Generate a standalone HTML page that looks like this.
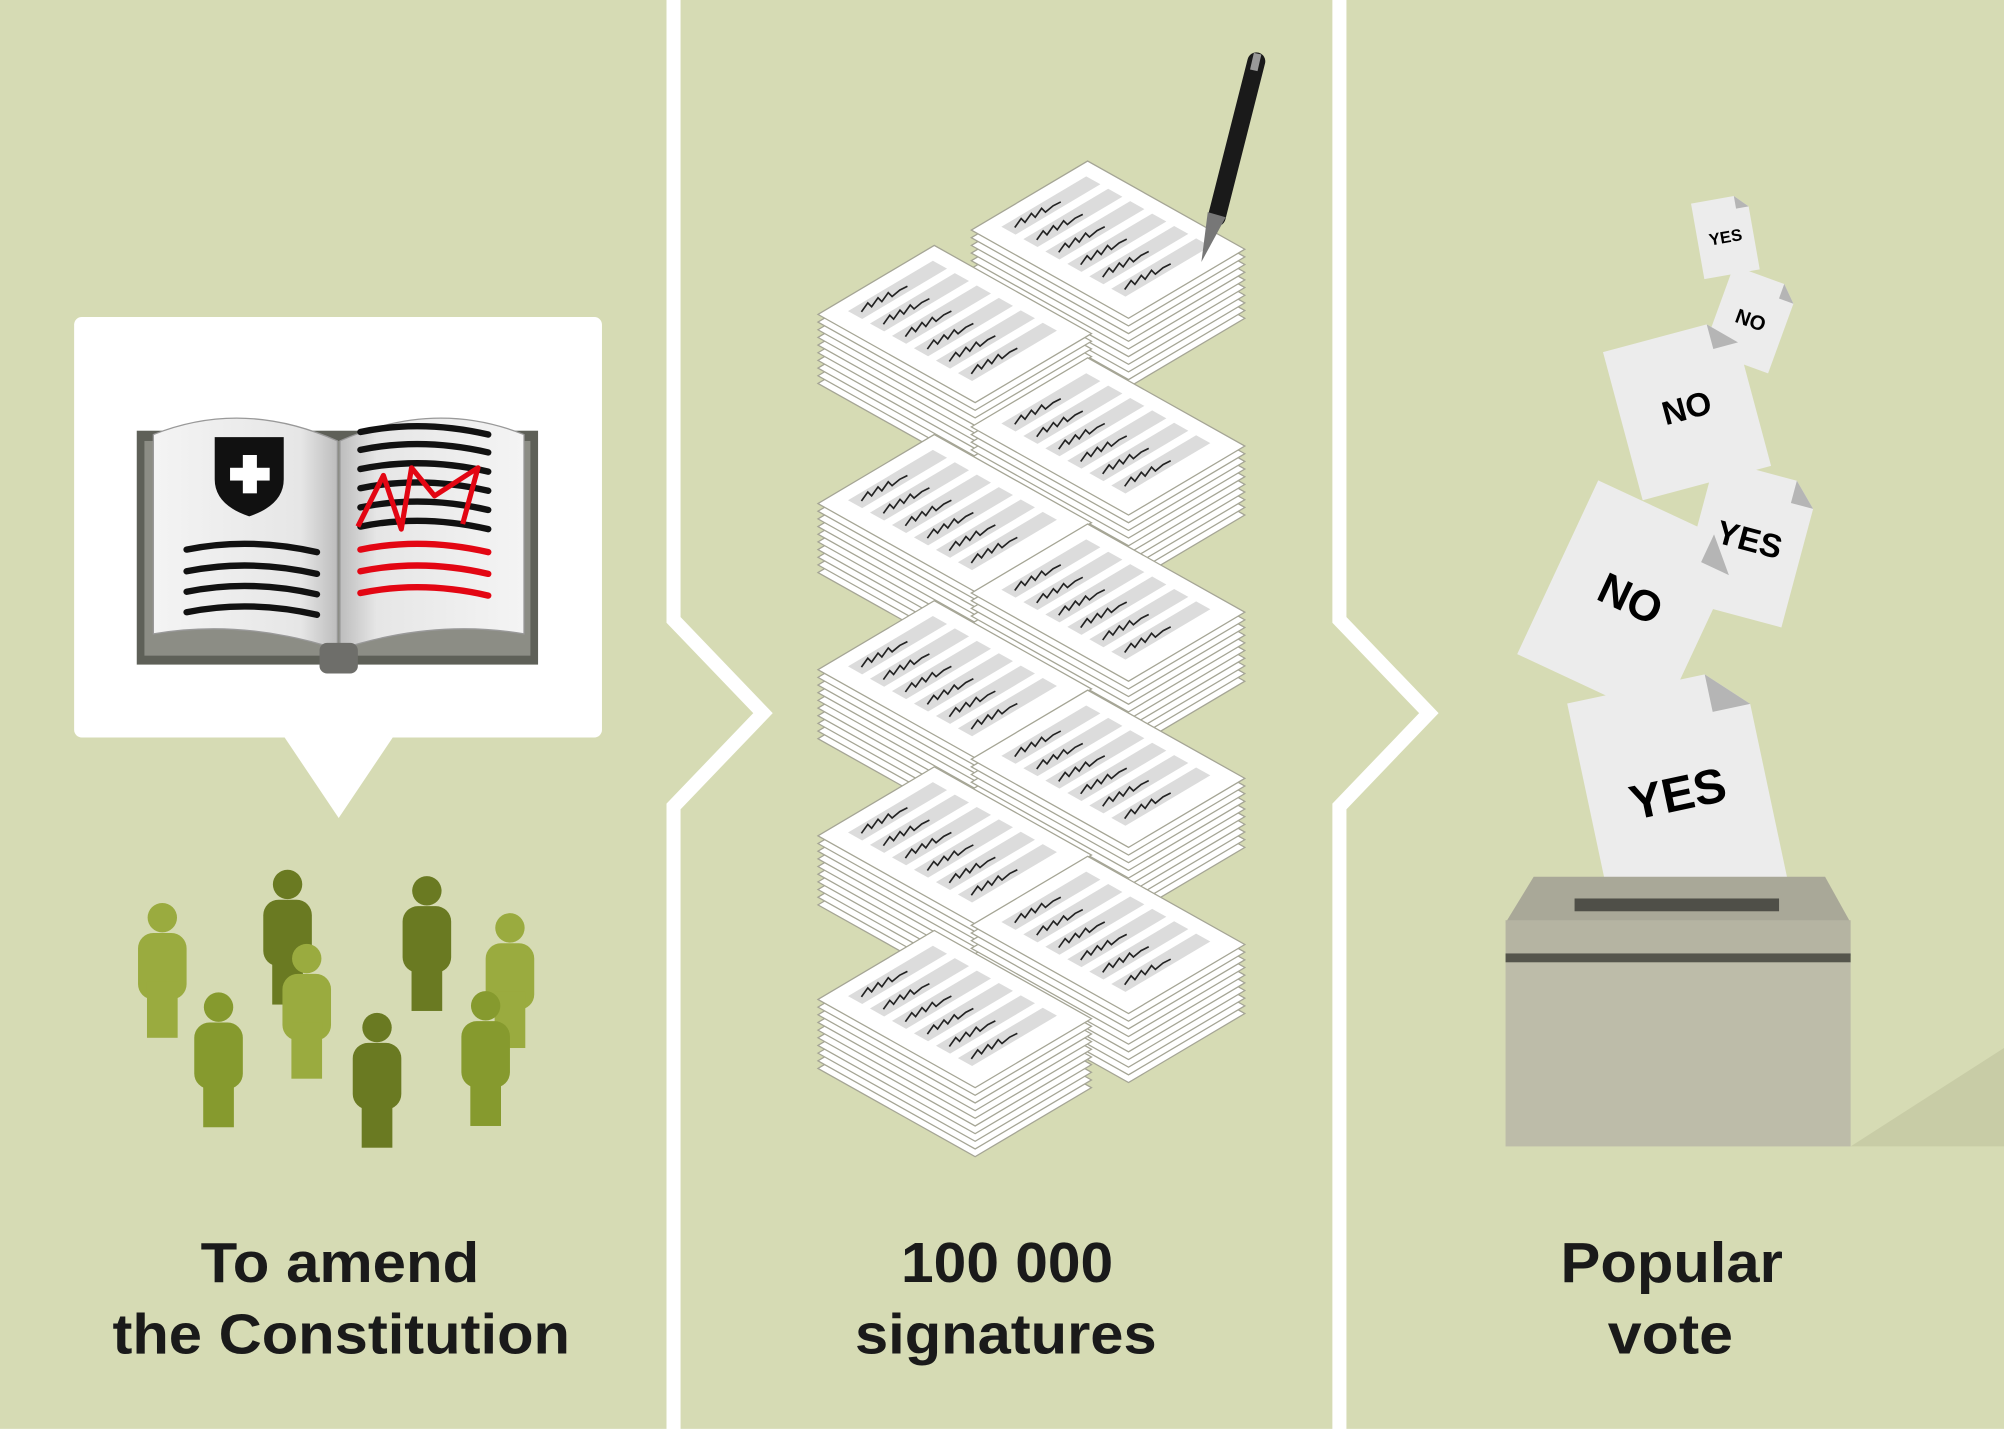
<!DOCTYPE html>
<html><head><meta charset="utf-8"><style>
html,body{margin:0;padding:0;background:#d6dbb4;}
svg{display:block;}
text{font-family:"Liberation Sans",sans-serif;font-weight:bold;}
</style></head><body>
<svg width="2004" height="1434" viewBox="0 0 1568 1122" xmlns="http://www.w3.org/2000/svg">
<defs>
<linearGradient id="pg" x1="0" x2="1" y1="0" y2="0"><stop offset="0" stop-color="#f4f4f4"/><stop offset="0.8" stop-color="#e6e6e6"/><stop offset="1" stop-color="#bdbdbd"/></linearGradient>
<linearGradient id="pg2" x1="1" x2="0" y1="0" y2="0"><stop offset="0" stop-color="#f4f4f4"/><stop offset="0.8" stop-color="#e6e6e6"/><stop offset="1" stop-color="#bdbdbd"/></linearGradient>
<polygon id="sh" points="0,54 91,0 214,69 123,123" fill="#fff" stroke="#a5a595" stroke-width="1"/>
<polygon id="bar" points="89.9,12 101,18.2 34.6,57.6 23.5,51.4" fill="#dcdcdc"/>
<path id="scr" d="M34,52 l5,-7 l3,3 l5,-7 l3,3 l5,-7 l3,3 l6,-5 l6,-3" fill="none" stroke="#222" stroke-width="1.3"/>
<g id="stk">
<use href="#sh" y="54"/><use href="#sh" y="48"/><use href="#sh" y="42"/><use href="#sh" y="36"/><use href="#sh" y="30"/><use href="#sh" y="24"/><use href="#sh" y="18"/><use href="#sh" y="12"/><use href="#sh" y="6"/><use href="#sh"/>
<use href="#bar"/><use href="#bar" x="17.2" y="9.7"/><use href="#bar" x="34.4" y="19.4"/><use href="#bar" x="51.6" y="29.1"/><use href="#bar" x="68.8" y="38.8"/><use href="#bar" x="86" y="48.5"/>
<use href="#scr"/><use href="#scr" x="17.2" y="9.7"/><use href="#scr" x="34.4" y="19.4"/><use href="#scr" x="51.6" y="29.1"/><use href="#scr" x="68.8" y="38.8"/><use href="#scr" x="86" y="48.5"/>
</g>
<g id="person"><circle cx="0" cy="0" r="11.5"/><rect x="-19" y="12" width="38" height="52" rx="12"/><rect x="-12" y="50" width="24" height="44"/></g>
</defs>
<rect width="1568" height="1122" fill="#d6dbb4"/>
<rect x="0" y="1118" width="1568" height="4" fill="#fff"/>
<polyline points="527,0 527,485 597,558 527,631 527,1122" fill="none" stroke="#fff" stroke-width="11"/>
<polyline points="1048,0 1048,485 1118,558 1048,631 1048,1122" fill="none" stroke="#fff" stroke-width="11"/>

<rect x="58" y="248" width="413" height="329" rx="6" fill="#fff"/>
<polygon points="222,576 308,576 265,640" fill="#fff"/>
<rect x="107" y="337" width="314" height="183" fill="#5e6058"/>
<rect x="113" y="345" width="302" height="168" fill="#8c8d85"/>
<path d="M120,340 Q190,312 264,345 L264,508 Q190,484 120,496 Z" fill="url(#pg)" stroke="#999" stroke-width="1"/>
<path d="M410,340 Q340,312 266,345 L266,508 Q340,484 410,496 Z" fill="url(#pg2)" stroke="#999" stroke-width="1"/>
<rect x="250" y="503" width="30" height="24" rx="6" fill="#6e6e6a"/>
<path d="M168,342 L222,342 L222,375 Q222,395 195,404 Q168,395 168,375 Z" fill="#111"/>
<rect x="190" y="356" width="11" height="30" fill="#fff"/><rect x="180" y="366" width="31" height="10" fill="#fff"/>
<g fill="none" stroke="#111" stroke-width="5" stroke-linecap="round">
<path d="M146,430 Q195,420 248,432"/><path d="M146,447 Q195,437 248,449"/><path d="M146,463 Q195,453 248,465"/><path d="M146,479 Q195,469 248,481"/>
<path d="M282,338 Q330,328 382,340"/><path d="M282,352 Q330,342 382,354"/><path d="M282,367 Q330,357 382,369"/><path d="M282,382 Q330,372 382,384"/><path d="M282,397 Q330,387 382,399"/><path d="M282,412 Q330,402 382,414"/>
</g>
<g fill="none" stroke="#e30613" stroke-width="5" stroke-linecap="round">
<path d="M282,430 Q330,420 382,432"/><path d="M282,447 Q330,437 382,449"/><path d="M282,464 Q330,454 382,466"/>
</g>
<path d="M280,412 L300,372 L314,414 L322,366 L340,388 L374,366 L362,410" fill="none" stroke="#e30613" stroke-width="4" stroke-linejoin="round"/>
<use href="#person" x="127" y="718" fill="#9aab3f"/>
<use href="#person" x="225" y="692" fill="#6a7a22"/>
<use href="#person" x="334" y="697" fill="#6a7a22"/>
<use href="#person" x="399" y="726" fill="#9aab3f"/>
<use href="#person" x="240" y="750" fill="#9aab3f"/>
<use href="#person" x="171" y="788" fill="#869a2e"/>
<use href="#person" x="295" y="804" fill="#6a7a22"/>
<use href="#person" x="380" y="787" fill="#869a2e"/>

<use href="#stk" x="760" y="126"/>
<use href="#stk" x="640" y="192"/>
<use href="#stk" x="760" y="280"/>
<use href="#stk" x="640" y="340"/>
<use href="#stk" x="760" y="410"/>
<use href="#stk" x="640" y="470"/>
<use href="#stk" x="760" y="540"/>
<use href="#stk" x="640" y="600"/>
<use href="#stk" x="760" y="670"/>
<use href="#stk" x="640" y="728"/>
<line x1="983" y1="48" x2="952" y2="170" stroke="#1a1a1a" stroke-width="14" stroke-linecap="round"/>
<polygon points="945,166 959,170 940,205" fill="#777"/>
<line x1="984" y1="42" x2="981" y2="55" stroke="#999" stroke-width="6"/>

<g font-size="26">
<g transform="translate(1350,185) rotate(-10)"><path d="M-22,-30 L12,-30 L22,-20 L22,30 L-22,30 Z" fill="#ececec"/><path d="M12,-30 L22,-20 L12,-20 Z" fill="#b5b5b5"/><text x="0" y="5" font-size="13" text-anchor="middle">YES</text></g>
<g transform="translate(1370,250) rotate(20)"><path d="M-27,-35 L15,-35 L27,-23 L27,35 L-27,35 Z" fill="#ececec"/><path d="M15,-35 L27,-23 L15,-23 Z" fill="#b5b5b5"/><text x="0" y="6" font-size="16" text-anchor="middle">NO</text></g>
<g transform="translate(1320,320) rotate(-15)"><path d="M-52,-60 L32,-60 L52,-40 L52,60 L-52,60 Z" fill="#ececec"/><path d="M32,-60 L52,-40 L32,-40 Z" fill="#b5b5b5"/><text x="0" y="8" font-size="26" text-anchor="middle">NO</text></g>
<g transform="translate(1368,425) rotate(15)"><path d="M-42,-57 L24,-57 L42,-39 L42,57 L-42,57 Z" fill="#ececec"/><path d="M24,-57 L42,-39 L24,-39 Z" fill="#b5b5b5"/><text x="0" y="6" font-size="26" text-anchor="middle">YES</text></g>
<g transform="translate(1275,470) rotate(25)"><path d="M-62,-75 L38,-75 L62,-51 L62,75 L-62,75 Z" fill="#ececec"/><path d="M38,-75 L62,-51 L38,-51 Z" fill="#b5b5b5"/><text x="0" y="10" font-size="34" text-anchor="middle">NO</text></g>
<g transform="translate(1313,622) rotate(-12)"><path d="M-70,-88 L40,-88 L70,-58 L70,88 L-70,88 Z" fill="#ececec"/><path d="M40,-88 L70,-58 L40,-58 Z" fill="#b5b5b5"/><text x="0" y="12" font-size="38" text-anchor="middle">YES</text></g>
</g>
<polygon points="1448,897 1568,820 1568,897" fill="#c8cca6"/>
<polygon points="1178,722 1200,686 1428,686 1448,722" fill="#a9a898"/>
<rect x="1232" y="703" width="160" height="10" fill="#4f4f48"/>
<rect x="1178" y="720" width="270" height="28" fill="#b5b4a2"/>
<rect x="1178" y="746" width="270" height="7" fill="#55554c"/>
<rect x="1178" y="753" width="270" height="144" fill="#bdbca9"/>
<g fill="#1a1a1a" font-size="44" text-anchor="middle">
<text x="266" y="1003" textLength="218" lengthAdjust="spacingAndGlyphs">To amend</text>
<text x="267" y="1059" textLength="358" lengthAdjust="spacingAndGlyphs">the Constitution</text>
<text x="788" y="1003" textLength="166" lengthAdjust="spacingAndGlyphs">100 000</text>
<text x="787" y="1059" textLength="236" lengthAdjust="spacingAndGlyphs">signatures</text>
<text x="1308" y="1003" textLength="174" lengthAdjust="spacingAndGlyphs">Popular</text>
<text x="1307" y="1059" textLength="98" lengthAdjust="spacingAndGlyphs">vote</text>
</g>
</svg>
</body></html>
